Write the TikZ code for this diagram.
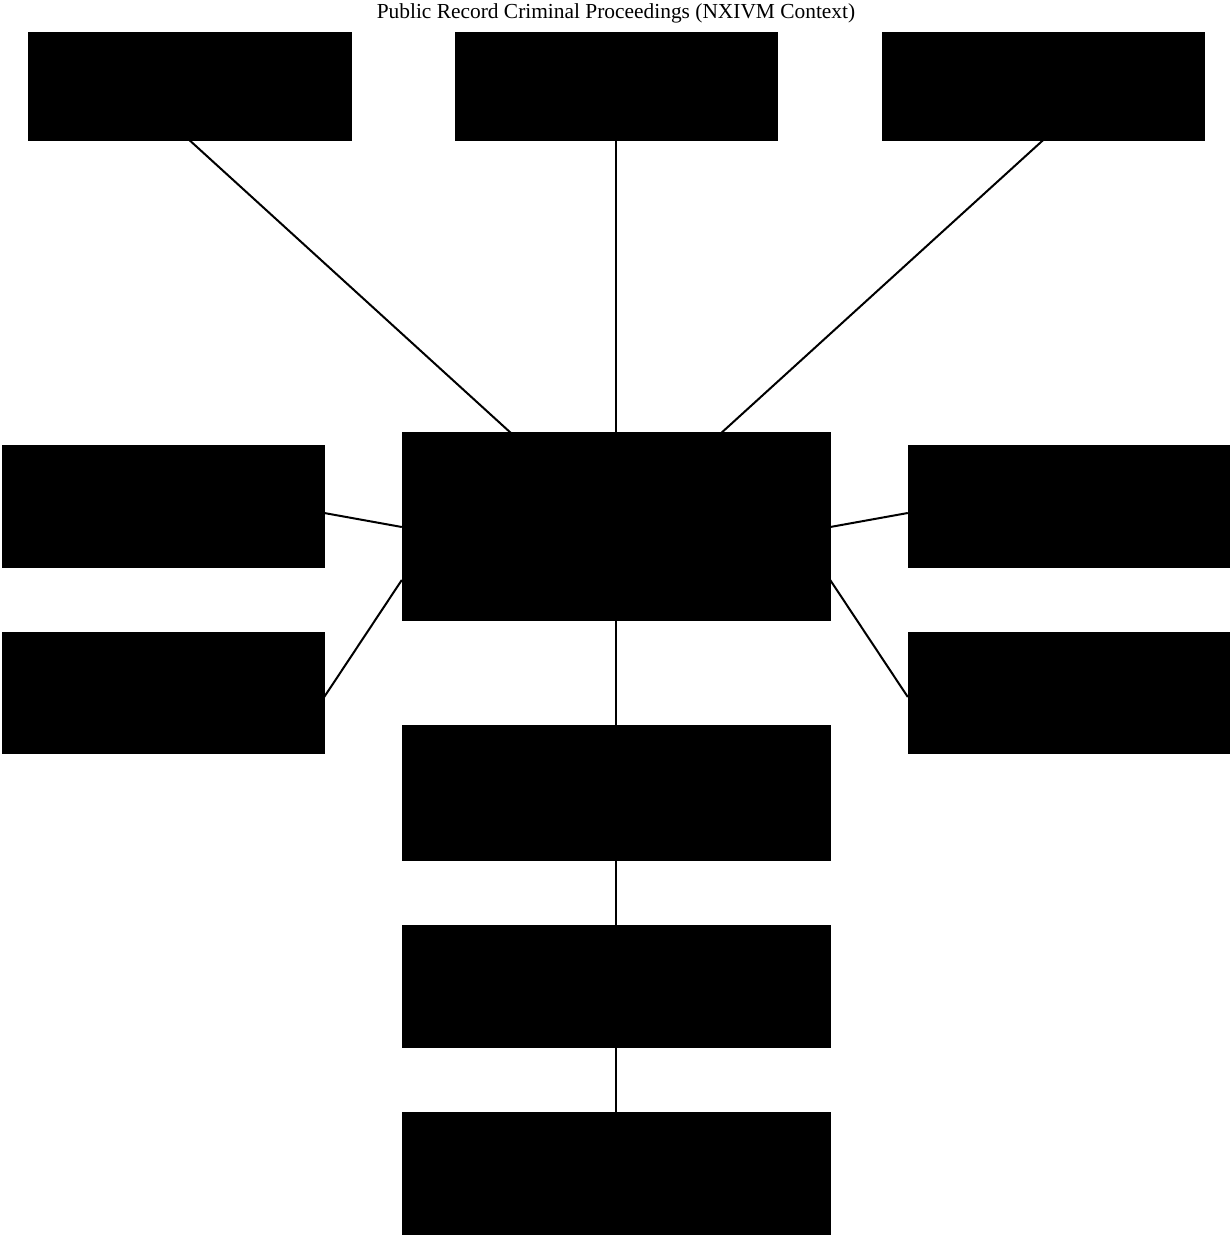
\documentclass[tikz,border=0pt]{standalone}
\usepackage{fontspec}
\setmainfont{Liberation Serif}

\tikzset{
  blk/.style={rectangle,fill=black,draw=black,inner sep=0pt},
  link/.style={line width=2pt}
}

\begin{document}
\begin{tikzpicture}[x=1pt,y=-1pt]
\useasboundingbox (0,0) rectangle (1230,1236);
\node (title) at (616,13) {\fontsize{21.4}{25}\selectfont Public Record Criminal Proceedings (NXIVM Context)};

\node[blk,minimum width=323pt,minimum height=108pt] (topl) at (189.5,86) {};
\node[blk,minimum width=322pt,minimum height=108pt] (topm) at (616,86) {};
\node[blk,minimum width=322pt,minimum height=108pt] (topr) at (1043,86) {};

\node[blk,minimum width=428pt,minimum height=188pt] (cen) at (616,526) {};

\node[blk,minimum width=322pt,minimum height=122pt] (left1) at (163,506) {};
\node[blk,minimum width=322pt,minimum height=121pt] (left2) at (163,692.5) {};
\node[blk,minimum width=322pt,minimum height=122pt] (right1) at (1069,506) {};
\node[blk,minimum width=322pt,minimum height=121pt] (right2) at (1069,692.5) {};

\node[blk,minimum width=428pt,minimum height=135pt] (bot1) at (616,792.5) {};
\node[blk,minimum width=428pt,minimum height=122pt] (bot2) at (616,986) {};
\node[blk,minimum width=428pt,minimum height=122pt] (bot3) at (616,1173) {};

% spokes
\draw[link] (topl.south) -- ([xshift=-3pt]cen.center);
\draw[link] (topm.south) -- (cen.north);
\draw[link] (topr.south) -- ([xshift=3pt]cen.center);
\draw[link] ([yshift=-7pt]left1.east) -- ([yshift=-1pt]cen.west);
\draw[link] ([yshift=-4.5pt]left2.east) -- ([yshift=-54pt]cen.west);
\draw[link] ([yshift=-7pt]right1.west) -- ([yshift=-1pt]cen.east);
\draw[link] ([yshift=-4.5pt]right2.west) -- ([yshift=-54pt]cen.east);

% chain below
\draw[link] (cen) -- (bot1);
\draw[link] (bot1) -- (bot2);
\draw[link] (bot2) -- (bot3);
\end{tikzpicture}
\end{document}
